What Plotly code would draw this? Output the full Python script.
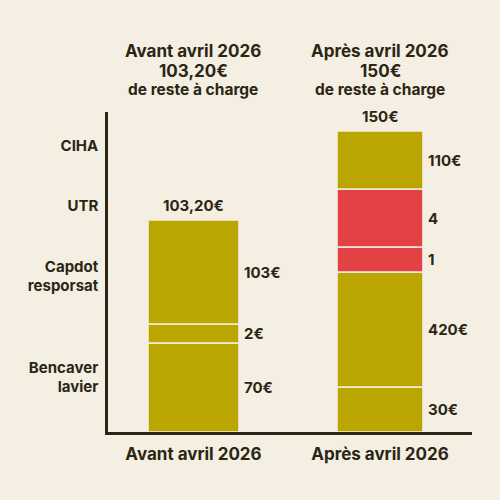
import plotly.graph_objects as go

# ---- data ----
periods = ["Avant avril 2026", "Après avril 2026"]
totals_text = ["103,20€", "150€"]
# segment heights (chart units), bottom -> top
left_heights = [44.5, 9.5, 52]
left_labels = ["70€", "2€", "103€"]
left_colors = ["gold", "gold", "gold"]
right_heights = [22.5, 57.5, 12.5, 29, 29]
right_labels = ["30€", "420€", "1", "4", "110€"]
right_colors = ["gold", "gold", "red", "red", "gold"]
row_labels = ["CIHA", "UTR", "Capdot<br>resporsat", "Bencaver<br>lavier"]
row_positions = [143, 113, 78, 27.5]

BG = "#f4eee3"
INK = "#2b2613"
PAL = {"gold": "#bba500", "red": "#e34244"}
FONT = "Inter"

xpos = [0, 1]
widths = [0.488, 0.461]

fig = go.Figure()
annotations = []

def add_stack(xi, heights, labels, colors):
    base = 0
    for h, lab, c in zip(heights, labels, colors):
        fig.add_trace(go.Bar(
            x=[xpos[xi]], y=[h], base=[base], width=[widths[xi]],
            marker=dict(color=PAL[c], line=dict(color=BG, width=1.6)),
            showlegend=False, hoverinfo="skip"))
        annotations.append(dict(
            x=xpos[xi] + widths[xi] / 2, y=base + h / 2, xref="x", yref="y",
            text=lab, showarrow=False, xanchor="left", yanchor="middle", xshift=3,
            font=dict(family=FONT, size=15, color=INK, weight=700)))
        base += h
    annotations.append(dict(
        x=xpos[xi], y=base, xref="x", yref="y", text=totals_text[xi],
        showarrow=False, xanchor="center", yanchor="bottom", yshift=3,
        font=dict(family=FONT, size=15, color=INK, weight=700)))

add_stack(0, left_heights, left_labels, left_colors)
add_stack(1, right_heights, right_labels, right_colors)

# top headings
for xi in range(2):
    annotations.append(dict(x=xpos[xi], y=(432 - 51) / 320, xref="x", yref="paper",
                            text=periods[xi], showarrow=False, yanchor="middle",
                            font=dict(family=FONT, size=17, color=INK, weight=700)))
    annotations.append(dict(x=xpos[xi], y=(432 - 71) / 320, xref="x", yref="paper",
                            text=totals_text[xi], showarrow=False, yanchor="middle",
                            font=dict(family=FONT, size=17, color=INK, weight=700)))
    annotations.append(dict(x=xpos[xi], y=(432 - 90) / 320, xref="x", yref="paper",
                            text="de reste à charge", showarrow=False, yanchor="middle",
                            font=dict(family=FONT, size=15.5, color=INK, weight=700)))

fig.update_layout(
    width=500, height=500,
    margin=dict(l=108, r=28, t=112, b=68),
    paper_bgcolor=BG, plot_bgcolor=BG,
    barmode="overlay",
    annotations=annotations,
    xaxis=dict(range=[-0.4584, 1.4933], tickvals=xpos, ticktext=periods,
               showline=True, linecolor=INK, linewidth=2.5, showgrid=False,
               zeroline=False, ticks="", ticklabelstandoff=5,
               tickfont=dict(family=FONT, size=17, color=INK, weight=700)),
    yaxis=dict(range=[0, 160], tickvals=row_positions, ticktext=row_labels,
               showline=True, linecolor=INK, linewidth=2.5, showgrid=False,
               zeroline=False, ticks="", ticklabelstandoff=4,
               tickfont=dict(family=FONT, size=15, color=INK, weight=700)),
)

fig.write_html("out.html")
